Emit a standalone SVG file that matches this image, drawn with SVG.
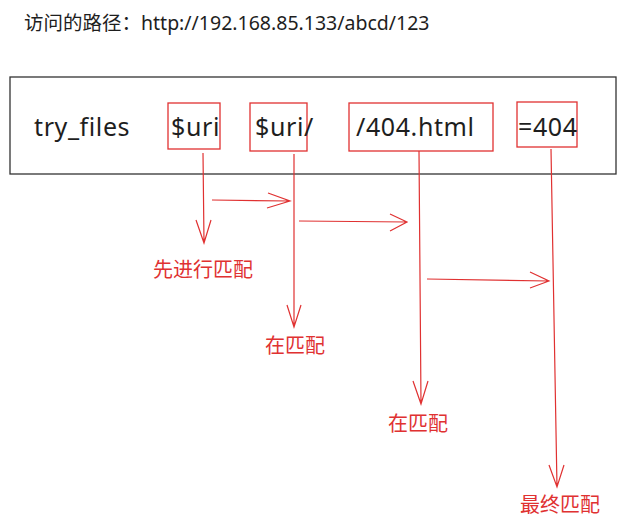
<svg xmlns="http://www.w3.org/2000/svg" width="626" height="529" viewBox="0 0 626 529">
<style>
.t{font-family:"Noto Sans","Noto Sans CJK SC",sans-serif;fill:#1e1e1e}
.b{font-size:25px;letter-spacing:0.6px}
.r{fill:none;stroke:#e03131;stroke-width:1.3}
.l{fill:#e03131;font-family:"Noto Sans CJK SC",sans-serif;font-size:20px}
.c path{fill:none;stroke:#e03131;stroke-width:1.2}
</style>
<rect width="626" height="529" fill="#fff"/>
<text class="t" x="24" y="30" font-size="19.5">访问的路径：http://192.168.85.133/abcd/123</text>
<g id="box"><rect x="10" y="77" width="606" height="97" fill="none" stroke="#333" stroke-width="1.3"/>
<text class="t b" x="34" y="136">try_files</text></g>
<g id="n1"><rect class="r" x="168" y="103" width="52" height="46"/><text class="t b" x="171" y="136">$uri</text></g>
<g id="n2"><rect class="r" x="250" y="103" width="57" height="48"/><text class="t b" x="255" y="136">$uri/</text></g>
<g id="n3"><rect class="r" x="349" y="103" width="144" height="48"/><text class="t b" x="356" y="136">/404.html</text></g>
<g id="n4"><rect class="r" x="517" y="102" width="60" height="45"/><text class="t b" x="518" y="136">=404;</text></g>
<rect x="578" y="100" width="30" height="50" fill="#fff"/>
<g class="c">
<path d="M203 153 L204 243 M196 220 L204 243 L211 220"/>
<path d="M212 200 L290 201 M268 193 L290 201 L267 208"/>
<path d="M294 154 L294 327 M287 305 L294 327 L301 305"/>
<path d="M299 221 L407 222 M390 214 L407 222 L390 231"/>
<path d="M419 151 L421 404 M413 381 L421 404 L428 381"/>
<path d="M427 279 L549 281 M530 272 L549 281 L530 288"/>
<path d="M551 149 L557 487 M549 465 L557 487 L564 465"/>
</g>
<g id="lab1"><text class="l" x="153" y="277">先进行匹配</text></g>
<g id="lab2"><text class="l" x="265" y="353">在匹配</text></g>
<g id="lab3"><text class="l" x="388" y="431">在匹配</text></g>
<g id="lab4"><text class="l" x="520" y="512">最终匹配</text></g>
</svg>
